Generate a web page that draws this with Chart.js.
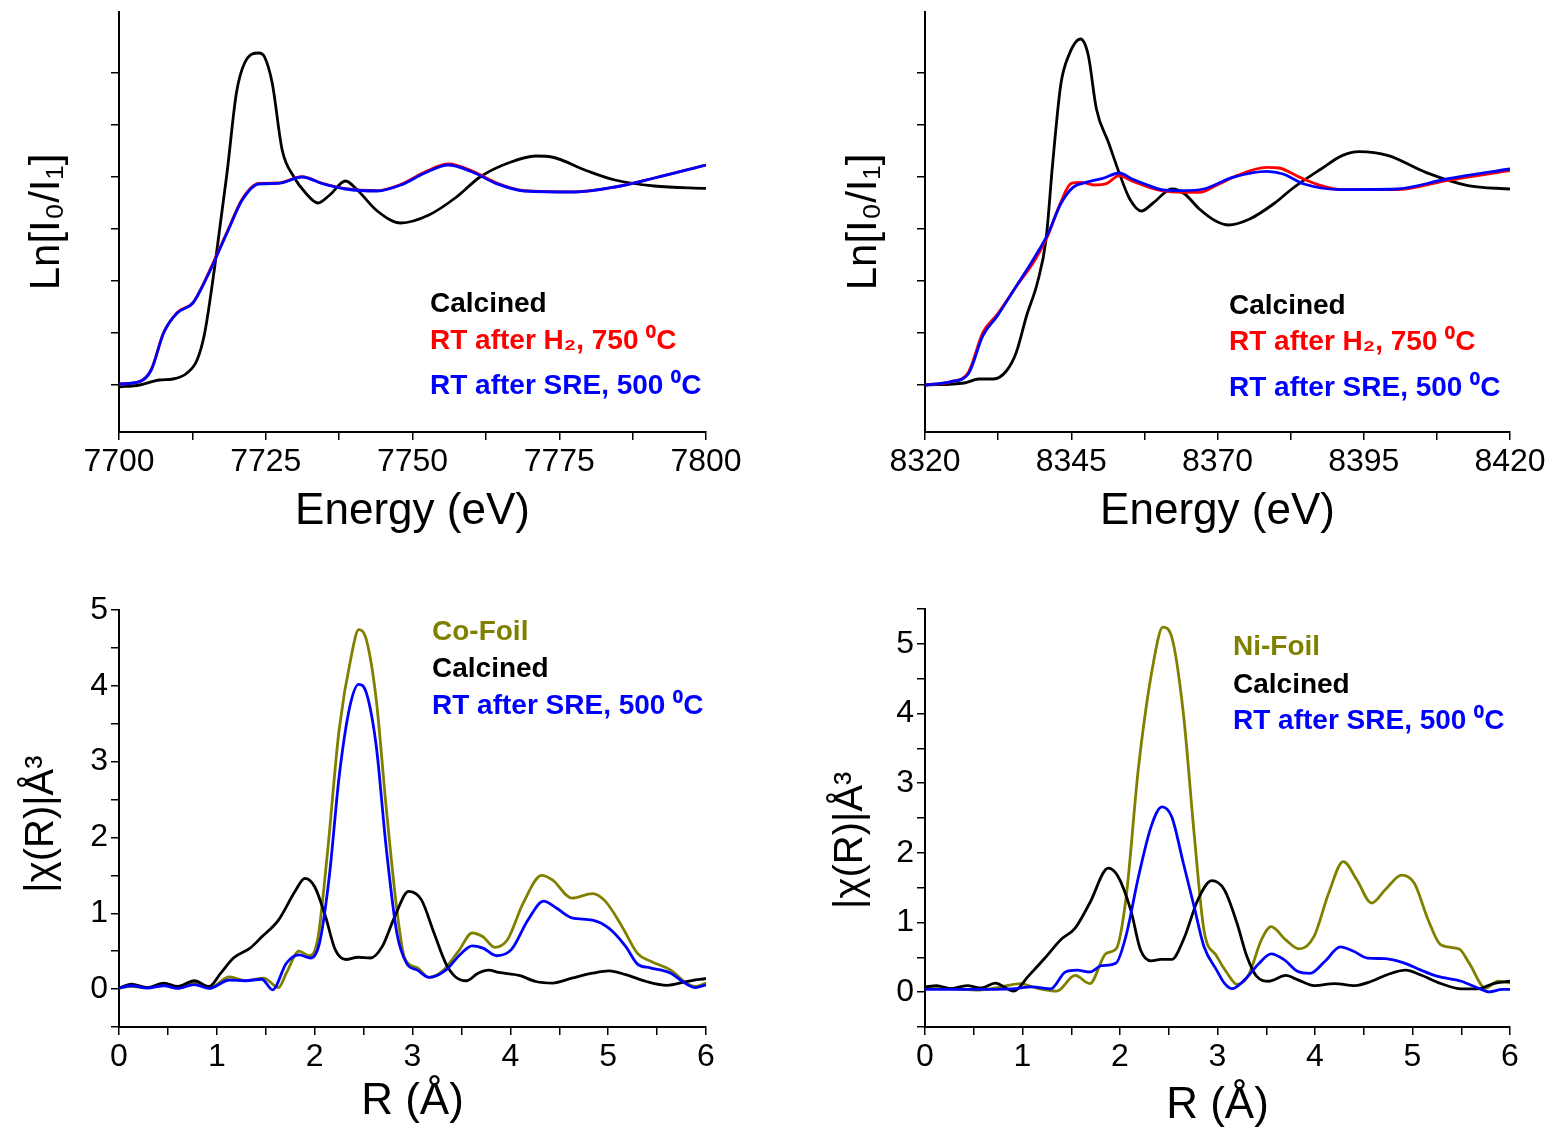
<!DOCTYPE html>
<html>
<head>
<meta charset="utf-8">
<script src="https://cdn.jsdelivr.net/npm/chart.js@4"></script>
<style>
  body { margin: 0; background: #fff; }
  canvas { position: absolute; }
</style>
</head>
<body>
<canvas id="coXanes" width="777" height="566" style="left:0;top:0"></canvas>
<canvas id="niXanes" width="777" height="566" style="left:777px;top:0"></canvas>
<canvas id="coExafs" width="777" height="566" style="left:0;top:566px"></canvas>
<canvas id="niExafs" width="777" height="566" style="left:777px;top:566px"></canvas>
<script>
// ---- Co K-edge XANES (normalised, arbitrary units) ----
const coCalcE = [7700, 7703.5, 7706.9, 7709.2, 7711.6, 7713.3, 7714.6, 7716.3, 7718.4, 7720, 7721.4, 7723.8, 7724.8, 7726.1, 7727.8, 7729.8, 7731.8, 7733.9, 7735.9, 7738.6, 7740.6, 7744, 7748, 7752.8, 7757.5, 7761.5, 7766.3, 7771, 7773.7, 7779.8, 7784.5, 7791.2, 7800];
const coCalc = [-0.01, 0, 0.025, 0.03, 0.06, 0.125, 0.26, 0.59, 1.06, 1.46, 1.61, 1.66, 1.64, 1.51, 1.175, 1.04, 0.96, 0.91, 0.95, 1.02, 0.975, 0.87, 0.81, 0.85, 0.94, 1.04, 1.11, 1.145, 1.14, 1.07, 1.025, 0.995, 0.983];
const coRedE = [7700, 7703.5, 7705.5, 7707.6, 7709.9, 7712.6, 7715, 7718.4, 7721, 7723.8, 7727.1, 7731.2, 7734.5, 7738.6, 7744, 7748, 7752.1, 7756.1, 7760.2, 7764.2, 7769, 7777.7, 7784.5, 7791.2, 7800];
const coH2 = [0.005, 0.017, 0.078, 0.262, 0.362, 0.412, 0.545, 0.765, 0.93, 1.008, 1.01, 1.042, 1.01, 0.982, 0.972, 1.003, 1.065, 1.105, 1.07, 1.012, 0.972, 0.966, 0.99, 1.035, 1.1];
const coSre = [0.005, 0.017, 0.075, 0.26, 0.36, 0.41, 0.54, 0.76, 0.925, 1.005, 1.008, 1.04, 1.008, 0.98, 0.97, 1.0, 1.06, 1.1, 1.065, 1.008, 0.97, 0.965, 0.99, 1.035, 1.1];

// ---- Ni K-edge XANES ----
const niCalcE = [8320, 8326.7, 8329.2, 8331.7, 8333.9, 8335.6, 8337.4, 8339.2, 8340.7, 8341.8, 8343.2, 8344.6, 8346.6, 8347.9, 8349.3, 8351.4, 8353.2, 8355, 8357, 8359, 8362.2, 8364.4, 8366.9, 8369.7, 8371.9, 8375.5, 8379.8, 8382.7, 8387.7, 8391.3, 8394.2, 8399.2, 8405.6, 8412.8, 8420];
const niCalc = [0, 0.01, 0.03, 0.03, 0.07, 0.163, 0.35, 0.51, 0.73, 1.1, 1.5, 1.65, 1.73, 1.65, 1.38, 1.21, 1.06, 0.93, 0.87, 0.91, 0.98, 0.955, 0.88, 0.82, 0.8, 0.83, 0.91, 0.98, 1.08, 1.147, 1.167, 1.147, 1.063, 0.997, 0.98];
const niH2E = [8320, 8324.5, 8327.4, 8329.9, 8332.4, 8335.3, 8338.9, 8341, 8343.2, 8345, 8346.8, 8348.9, 8351.1, 8353.2, 8355.4, 8358.3, 8360.4, 8364, 8366.9, 8369.7, 8373.3, 8378.4, 8380.5, 8384.1, 8387.7, 8391.3, 8400.6, 8409.2, 8420];
const niH2 = [0, 0.017, 0.063, 0.263, 0.355, 0.48, 0.63, 0.747, 0.913, 1.008, 1.013, 1.0, 1.008, 1.047, 1.02, 0.988, 0.972, 0.963, 0.963, 0.997, 1.047, 1.088, 1.085, 1.038, 0.997, 0.977, 0.977, 1.022, 1.072];
const niSreE = [8320, 8324.5, 8327.4, 8329.9, 8332.4, 8335.3, 8338.9, 8341, 8343.2, 8345.3, 8347.5, 8350.4, 8353.2, 8355.4, 8358.3, 8360.4, 8364, 8367.6, 8372.6, 8378.4, 8381.2, 8384.8, 8391.3, 8400.6, 8409.2, 8420];
const niSre = [0, 0.017, 0.055, 0.247, 0.347, 0.48, 0.647, 0.755, 0.905, 0.988, 1.013, 1.033, 1.06, 1.03, 0.997, 0.977, 0.972, 0.98, 1.038, 1.068, 1.055, 1.005, 0.977, 0.98, 1.03, 1.08];

// ---- Co EXAFS |chi(R)| ----
const coFoilR = [0, 0.125, 0.29, 0.46, 0.6, 0.77, 0.92, 1.13, 1.29, 1.48, 1.63, 1.71, 1.84, 1.94, 2.03, 2.13, 2.25, 2.38, 2.45, 2.53, 2.63, 2.73, 2.84, 2.92, 3.05, 3.17, 3.3, 3.47, 3.61, 3.72, 3.84, 3.97, 4.13, 4.32, 4.43, 4.63, 4.84, 4.97, 5.14, 5.3, 5.43, 5.64, 5.8, 5.89, 6];
const coFoil = [0.013, 0.035, 0.02, 0.057, 0.026, 0.08, 0.013, 0.16, 0.11, 0.145, 0.02, 0.21, 0.5, 0.44, 0.65, 1.79, 3.42, 4.43, 4.74, 4.6, 3.81, 2.41, 1.05, 0.41, 0.28, 0.154, 0.23, 0.5, 0.74, 0.69, 0.55, 0.65, 1.13, 1.5, 1.44, 1.2, 1.26, 1.16, 0.83, 0.47, 0.37, 0.25, 0.08, 0.035, 0.08];
const coCalcR = [0, 0.125, 0.29, 0.46, 0.6, 0.77, 0.92, 1.04, 1.17, 1.34, 1.46, 1.63, 1.8, 1.9, 2, 2.11, 2.21, 2.32, 2.44, 2.57, 2.69, 2.82, 2.96, 3.09, 3.22, 3.34, 3.44, 3.55, 3.67, 3.78, 3.88, 4.09, 4.26, 4.43, 4.63, 4.84, 5.01, 5.18, 5.39, 5.6, 5.8, 6];
const coCalcChi = [0.013, 0.066, 0.02, 0.08, 0.035, 0.11, 0.035, 0.21, 0.41, 0.54, 0.69, 0.91, 1.29, 1.46, 1.35, 0.96, 0.52, 0.39, 0.42, 0.41, 0.56, 0.96, 1.29, 1.18, 0.74, 0.34, 0.16, 0.11, 0.21, 0.25, 0.22, 0.18, 0.1, 0.08, 0.145, 0.21, 0.24, 0.19, 0.1, 0.05, 0.1, 0.14];
const coSreR = [0, 0.125, 0.29, 0.46, 0.6, 0.77, 0.92, 1.13, 1.29, 1.46, 1.57, 1.71, 1.84, 1.96, 2.05, 2.15, 2.25, 2.36, 2.45, 2.53, 2.63, 2.73, 2.84, 2.94, 3.05, 3.17, 3.34, 3.49, 3.61, 3.72, 3.86, 4.01, 4.18, 4.34, 4.47, 4.63, 4.84, 5.01, 5.18, 5.3, 5.43, 5.64, 5.76, 5.89, 6];
const coSreChi = [0.013, 0.044, 0.013, 0.044, 0.009, 0.06, 0.009, 0.12, 0.11, 0.13, -0.01, 0.34, 0.45, 0.41, 0.61, 1.49, 2.8, 3.73, 4.02, 3.9, 3.2, 1.88, 0.74, 0.34, 0.25, 0.154, 0.25, 0.46, 0.57, 0.54, 0.44, 0.52, 0.91, 1.16, 1.07, 0.94, 0.91, 0.8, 0.56, 0.33, 0.28, 0.21, 0.1, 0.02, 0.057];

// ---- Ni EXAFS |chi(R)| ----
const niFoilR = [0, 0.26, 0.56, 0.72, 0.98, 1.14, 1.35, 1.54, 1.69, 1.86, 1.96, 2.06, 2.19, 2.34, 2.44, 2.53, 2.65, 2.76, 2.86, 2.99, 3.11, 3.2, 3.32, 3.45, 3.55, 3.7, 3.84, 3.99, 4.14, 4.29, 4.43, 4.58, 4.72, 4.89, 5.02, 5.16, 5.29, 5.48, 5.58, 5.75, 5.88, 6];
const niFoil = [0.06, 0.05, 0.03, 0.06, 0.124, 0.06, 0.015, 0.24, 0.124, 0.56, 0.62, 1.33, 3.23, 4.71, 5.24, 5.1, 4.0, 2.28, 0.9, 0.52, 0.25, 0.11, 0.25, 0.75, 0.94, 0.75, 0.62, 0.8, 1.42, 1.875, 1.61, 1.28, 1.47, 1.68, 1.56, 1.04, 0.68, 0.62, 0.42, 0.06, 0.157, 0.134];
const niCalcR = [0, 0.12, 0.26, 0.43, 0.58, 0.72, 0.91, 1.06, 1.23, 1.39, 1.54, 1.69, 1.88, 1.98, 2.11, 2.21, 2.32, 2.42, 2.53, 2.65, 2.8, 2.94, 3.07, 3.2, 3.3, 3.4, 3.53, 3.7, 3.82, 3.99, 4.2, 4.41, 4.58, 4.74, 4.93, 5.08, 5.29, 5.5, 5.67, 5.83, 6];
const niCalcChi = [0.076, 0.095, 0.05, 0.095, 0.06, 0.13, 0.015, 0.23, 0.49, 0.75, 0.92, 1.28, 1.78, 1.66, 1.18, 0.61, 0.45, 0.47, 0.47, 0.75, 1.33, 1.6, 1.47, 0.99, 0.52, 0.23, 0.157, 0.24, 0.18, 0.095, 0.124, 0.095, 0.157, 0.25, 0.315, 0.25, 0.124, 0.048, 0.048, 0.124, 0.157];
const niSreR = [0, 0.47, 0.89, 1.1, 1.29, 1.44, 1.56, 1.69, 1.81, 1.96, 2.06, 2.19, 2.32, 2.43, 2.53, 2.65, 2.76, 2.86, 2.99, 3.07, 3.15, 3.28, 3.43, 3.55, 3.68, 3.82, 3.95, 4.1, 4.26, 4.39, 4.54, 4.72, 4.91, 5.08, 5.25, 5.5, 5.67, 5.79, 5.92, 6];
const niSreChi = [0.04, 0.04, 0.048, 0.076, 0.048, 0.29, 0.315, 0.29, 0.38, 0.42, 0.8, 1.66, 2.38, 2.66, 2.52, 1.85, 1.23, 0.66, 0.32, 0.13, 0.05, 0.18, 0.42, 0.55, 0.47, 0.3, 0.27, 0.44, 0.65, 0.59, 0.49, 0.48, 0.42, 0.32, 0.23, 0.157, 0.06, 0.005, 0.04, 0.04];

const BLACK = '#000000', RED = '#ff0000', BLUE = '#0000ff', OLIVE = '#808000';
const FONT = '"Liberation Sans", Arial, Helvetica, sans-serif';
const W = 777, H = 566;

// draws the coloured text-only legend inside the plot
const textLegend = {
  id: 'textLegend',
  afterDatasetsDraw(chart, args, opts) {
    if (!opts || !opts.lines) return;
    const ctx = chart.ctx;
    ctx.save();
    ctx.font = 'bold 28px ' + FONT;
    ctx.textBaseline = 'middle';
    opts.lines.forEach((l, i) => {
      ctx.fillStyle = l.color;
      ctx.fillText(l.text, opts.x, opts.ys[i]);
    });
    ctx.restore();
  }
};
Chart.register(textLegend);

function pts(xs, ys) {
  return xs.map((x, i) => ({ x: x, y: ys[i] }));
}

function makePanel(id, box, xs, ys, series, legend) {
  const axisCommon = {
    type: 'linear',
    grid: { drawOnChartArea: false, drawTicks: true, tickLength: 8, color: '#000', lineWidth: 1.5 },
    border: { display: true, color: '#000', width: 2 },
  };
  new Chart(document.getElementById(id), {
    type: 'line',
    data: {
      datasets: series.map(s => ({
        data: pts(s.x, s.y),
        borderColor: s.color,
        borderWidth: 2.8,
        pointRadius: 0,
        cubicInterpolationMode: 'monotone',
        fill: false
      }))
    },
    options: {
      responsive: false,
      animation: false,
      layout: { padding: { left: 0, top: box.top, right: W - box.right, bottom: 0 } },
      plugins: { legend: { display: false }, tooltip: { enabled: false }, textLegend: legend },
      scales: {
        x: Object.assign({}, axisCommon, {
          min: xs.min, max: xs.max,
          ticks: {
            stepSize: xs.step, autoSkip: false, maxRotation: 0, padding: 3,
            color: '#000', font: { family: FONT, size: 32 },
            callback: xs.label
          },
          title: { display: true, text: xs.title, color: '#000', font: { family: FONT, size: 44 }, padding: { top: 0, bottom: xs.titlePad } },
          afterFit(s) { s.height = H - box.bottom; }
        }),
        y: Object.assign({}, axisCommon, {
          min: ys.min, max: ys.max,
          ticks: {
            display: ys.labels, stepSize: ys.step, autoSkip: false, includeBounds: false, padding: 3,
            color: '#000', font: { family: FONT, size: 32 },
            callback: ys.label
          },
          title: { display: true, text: ys.title, color: '#000', font: { family: FONT, size: ys.titleSize }, padding: { top: ys.titlePad, bottom: 0 } },
          afterBuildTicks(s) { if (ys.tickMax !== undefined) s.ticks = s.ticks.filter(t => t.value <= ys.tickMax); },
          afterFit(s) { s.width = box.left; }
        })
      }
    }
  });
}

const every25 = base => v => (Math.abs((v - base) % 25) < 1e-6 ? String(v) : '');
const integers = v => (Math.abs(v - Math.round(v)) < 1e-6 ? String(Math.round(v)) : '');

makePanel('coXanes', { left: 119, top: 12, right: 706, bottom: 432 },
  { min: 7700, max: 7800, step: 12.5, label: every25(7700), title: 'Energy (eV)', titlePad: 28 },
  { min: -0.235, max: 1.865, step: 0.26, labels: false, tickMax: 1.7, title: 'Ln[I\u2080/I\u2081]', titleSize: 42, titlePad: 22 },
  [
    { x: coRedE, y: coSre, color: BLUE },
    { x: coRedE, y: coH2, color: RED },
    { x: coCalcE, y: coCalc, color: BLACK }
  ],
  { x: 430, ys: [304, 341, 386], lines: [
    { text: 'Calcined', color: BLACK },
    { text: 'RT after H\u2082, 750 \u2070C', color: RED },
    { text: 'RT after SRE, 500 \u2070C', color: BLUE }
  ] });

makePanel('niXanes', { left: 148, top: 12, right: 733, bottom: 432 },
  { min: 8320, max: 8420, step: 12.5, label: every25(8320), title: 'Energy (eV)', titlePad: 28 },
  { min: -0.235, max: 1.865, step: 0.26, labels: false, tickMax: 1.7, title: 'Ln[I\u2080/I\u2081]', titleSize: 42, titlePad: 62 },
  [
    { x: niSreE, y: niSre, color: BLUE },
    { x: niH2E, y: niH2, color: RED },
    { x: niCalcE, y: niCalc, color: BLACK }
  ],
  { x: 452, ys: [306, 342, 388], lines: [
    { text: 'Calcined', color: BLACK },
    { text: 'RT after H\u2082, 750 \u2070C', color: RED },
    { text: 'RT after SRE, 500 \u2070C', color: BLUE }
  ] });

makePanel('coExafs', { left: 119, top: 44, right: 706, bottom: 461 },
  { min: 0, max: 6, step: 0.5, label: integers, title: 'R (\u00c5)', titlePad: 4 },
  { min: -0.5, max: 5, step: 0.5, labels: true, label: integers, title: '|\u03c7(R)|\u00c5\u00b3 ', titleSize: 40, titlePad: 18 },
  [
    { x: coSreR, y: coSreChi, color: BLUE },
    { x: coCalcR, y: coCalcChi, color: BLACK },
    { x: coFoilR, y: coFoil, color: OLIVE }
  ],
  { x: 432, ys: [66, 103, 140], lines: [
    { text: 'Co-Foil', color: OLIVE },
    { text: 'Calcined', color: BLACK },
    { text: 'RT after SRE, 500 \u2070C', color: BLUE }
  ] });

makePanel('niExafs', { left: 148, top: 43, right: 733, bottom: 461 },
  { min: 0, max: 6, step: 0.5, label: integers, title: 'R (\u00c5)', titlePad: 0 },
  { min: -0.5, max: 5.5, step: 0.5, labels: true, label: integers, title: '|\u03c7(R)|\u00c5\u00b3    ', titleSize: 40, titlePad: 50 },
  [
    { x: niSreR, y: niSreChi, color: BLUE },
    { x: niCalcR, y: niCalcChi, color: BLACK },
    { x: niFoilR, y: niFoil, color: OLIVE }
  ],
  { x: 456, ys: [81, 119, 155], lines: [
    { text: 'Ni-Foil', color: OLIVE },
    { text: 'Calcined', color: BLACK },
    { text: 'RT after SRE, 500 \u2070C', color: BLUE }
  ] });
</script>
</body>
</html>
